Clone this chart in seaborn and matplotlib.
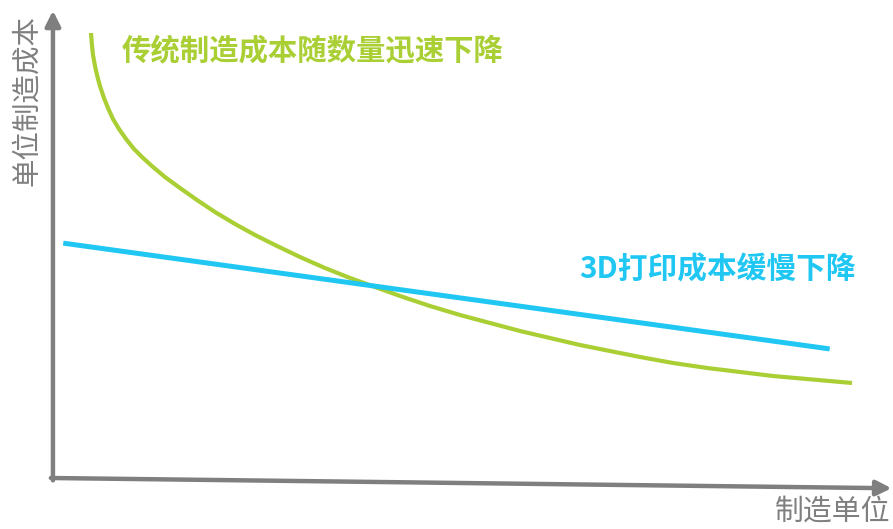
import matplotlib
matplotlib.use("Agg")
import matplotlib.pyplot as plt
import seaborn as sns
import pandas as pd

# Data (conceptual units: x = production units, y = unit cost)
trad_x = [4.36, 4.48, 4.61, 4.85, 5.09, 5.45, 5.94, 6.42, 7.03, 7.76, 8.61, 9.58,
          10.67, 11.88, 13.33, 15.15, 17.21, 19.39, 21.82, 24.24, 26.67, 29.70,
          32.73, 35.76, 38.79, 41.82, 45.45, 49.09, 52.73, 56.36, 60.00, 63.64,
          67.27, 70.91, 74.91, 79.03, 83.03, 87.03, 91.15, 96.61]
trad_y = [95.49, 92.92, 90.77, 88.41, 86.48, 84.12, 81.55, 79.40, 77.04, 74.89,
          72.75, 70.60, 68.67, 66.74, 64.59, 62.23, 59.66, 57.08, 54.51, 52.15,
          50.00, 47.42, 45.06, 42.92, 40.99, 39.06, 36.91, 34.98, 33.26, 31.55,
          30.04, 28.54, 27.25, 25.97, 24.68, 23.61, 22.75, 21.89, 21.24, 20.39]
print_x = [1.0, 93.9]
print_y = [50.4, 27.7]

trad_label = "传统制造成本随数量迅速下降"
print_label = "3D打印成本缓慢下降"
x_axis_label = "制造单位"
y_axis_label = "单位制造成本"

GREEN = "#AACF34"
BLUE = "#1FC7F2"
GRAY = "#7F7F7F"

sns.set_style("white")
plt.rcParams['font.family'] = ['Noto Sans CJK SC', 'DejaVu Sans']

W, H = 893, 529
fig = plt.figure(figsize=(W / 100, H / 100), dpi=100)
ax = fig.add_axes([55 / W, (H - 478) / H, (880 - 55) / W, (478 - 12) / H])
ax.set_xlim(0, 100)
ax.set_ylim(0, 100)
ax.axis("off")

df_t = pd.DataFrame({"x": trad_x, "y": trad_y})
df_p = pd.DataFrame({"x": print_x, "y": print_y})
sns.lineplot(data=df_t, x="x", y="y", ax=ax, color=GREEN, lw=3.0, sort=False,
             solid_capstyle="butt", solid_joinstyle="round")
sns.lineplot(data=df_p, x="x", y="y", ax=ax, color=BLUE, lw=3.6, sort=False,
             solid_capstyle="butt")

# axes arrows
arrow_kw = dict(arrowstyle="-|>,head_length=0.9,head_width=0.45", color=GRAY, lw=3.2,
                shrinkA=0, shrinkB=0)
ax.annotate("", xy=(-0.25, 100.3), xytext=(-0.25, -0.5), xycoords="data",
            arrowprops=arrow_kw, annotation_clip=False)
ax.annotate("", xy=(101.4, -2.2), xytext=(-0.5, 0), xycoords="data",
            arrowprops=arrow_kw, annotation_clip=False)

ax.text(8.1, 91.8, trad_label, color=GREEN, fontsize=21.2, fontweight="bold",
        ha="left", va="center")
ax.text(63.6, 44.8, print_label, color=BLUE, fontsize=21.4, fontweight="bold",
        ha="left", va="center")

fig.text(890 / W, 1 - 512 / H, x_axis_label, color=GRAY, fontsize=20.8,
         fontweight="light", ha="right", va="center")
fig.text(27 / W, 1 - 101 / H, y_axis_label, color=GRAY, fontsize=20.5,
         fontweight="light", rotation=90, ha="center", va="center")

fig.savefig("out.png", dpi=100)
